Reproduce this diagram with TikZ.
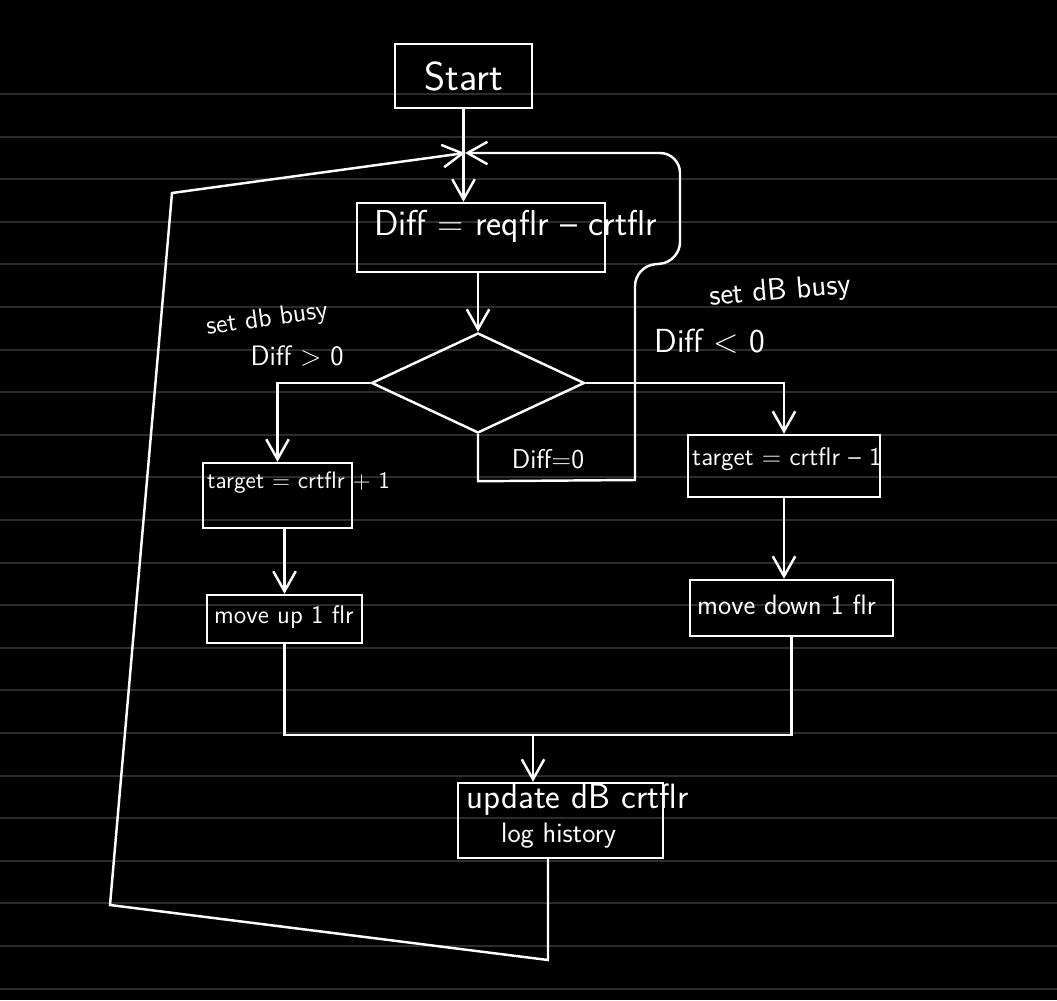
\documentclass[tikz,border=0pt]{standalone}
\usepackage{fontspec}
\renewcommand{\familydefault}{\sfdefault}
\usetikzlibrary{arrows.meta,positioning,shapes.geometric}
\definecolor{rulegray}{RGB}{44,44,44}
\newcommand{\fsz}[2]{\fontsize{#1}{#2}\selectfont}

\begin{document}
\begin{tikzpicture}[
  x=0.02cm, y=-0.02cm,
  line width=1.4pt, white,
  box/.style={draw, inner sep=0pt},
  txt/.style={inner sep=0pt, anchor=west, text=white},
  lbl/.style={inner sep=0pt, text=white},
  edge/.style={-{Straight Barb[length=4mm,width=4.5mm]}},
  rule/.style={draw=rulegray, line width=1.2pt}
]
% paper
\fill[black] (0,0) rectangle (1057,1000);
\useasboundingbox (0,0) rectangle (1057,1000);
\foreach \k in {0,...,21}
  \draw[rule] (0,{94+42.6*\k}) -- (1057,{94+42.6*\k});

% boxes
\node[box, minimum width=2.74cm, minimum height=1.28cm, font=\fsz{23}{26}] (start) at (463.5,76) {Start};
\node[box, minimum width=4.96cm, minimum height=1.38cm] (diff) at (481,237.5) {};
\node[txt, font=\fsz{20.5}{24}] (difft) at (373,226) {Diff = reqflr -- crtflr};
\node[draw, diamond, minimum width=4.26cm, minimum height=2cm, inner sep=0pt] (dia) at (478,383) {};

\node[box, minimum width=2.98cm, minimum height=1.3cm] (tgtL) at (277.5,495.5) {};
\node[txt, font=\fsz{13.5}{16}] (tgtLt) at (206,483) {target = crtflr + 1};
\node[box, minimum width=3.1cm, minimum height=0.96cm] (up) at (284.5,619) {};
\node[txt, font=\fsz{14.5}{17}] (upt) at (213,617) {move up 1 flr};

\node[box, minimum width=3.84cm, minimum height=1.24cm] (tgtR) at (784,466) {};
\node[txt, font=\fsz{14.5}{17}] (tgtRt) at (691,459) {target = crtflr -- 1};
\node[box, minimum width=4.06cm, minimum height=1.12cm] (down) at (791.5,608) {};
\node[txt, font=\fsz{16}{19}] (downt) at (696,605) {move down 1 flr};

\node[box, minimum width=4.1cm, minimum height=1.5cm] (upd) at (560.5,820.5) {};
\node[txt, font=\fsz{20}{23}] (updt) at (465,800) {update dB crtflr};
\node[txt, font=\fsz{16}{19}] (logt) at (500,836) {log history};

% branch labels
\node[lbl, font=\fsz{15}{18}, rotate=8] (setL) at (267,320) {set db busy};
\node[lbl, font=\fsz{16}{19}] (gtL) at (297,356) {Diff > 0};
\node[lbl, font=\fsz{17.5}{20}, rotate=5] (setR) at (780,292) {set dB busy};
\node[lbl, font=\fsz{19}{22}] (ltR) at (710,341) {Diff < 0};
\node[lbl, font=\fsz{15.5}{18}] (eq) at (548,459) {Diff=0};

\coordinate (merge) at (465,153);
\coordinate (join) at (533,735);
\coordinate (back) at (548,960);

% connectors
\draw[edge] (start.south) -- (start.south |- diff.north);
\draw[edge] (dia.north |- diff.south) -- (dia.north);
\draw[edge] (dia.west) -| (tgtL.north);
\draw[edge] (dia.east) -| (tgtR.north);
\draw[edge] (dia.south) -- ++(0,47) -- (635,480) [rounded corners=0.4cm] -- (635,266) -- (680,262) -- (680,153) -- (merge);
\draw[edge] (up.north |- tgtL.south) -- (up.north);
\draw[edge] (tgtR.south) -- (tgtR.south |- down.north);
\draw (up.south) |- (join) -| (down.south);
\draw[edge] (join) -- (join |- upd.north);
\draw[edge] (back |- upd.south) -- (back) -- (110,905) -- (172,193) -- (merge);
\end{tikzpicture}
\end{document}
